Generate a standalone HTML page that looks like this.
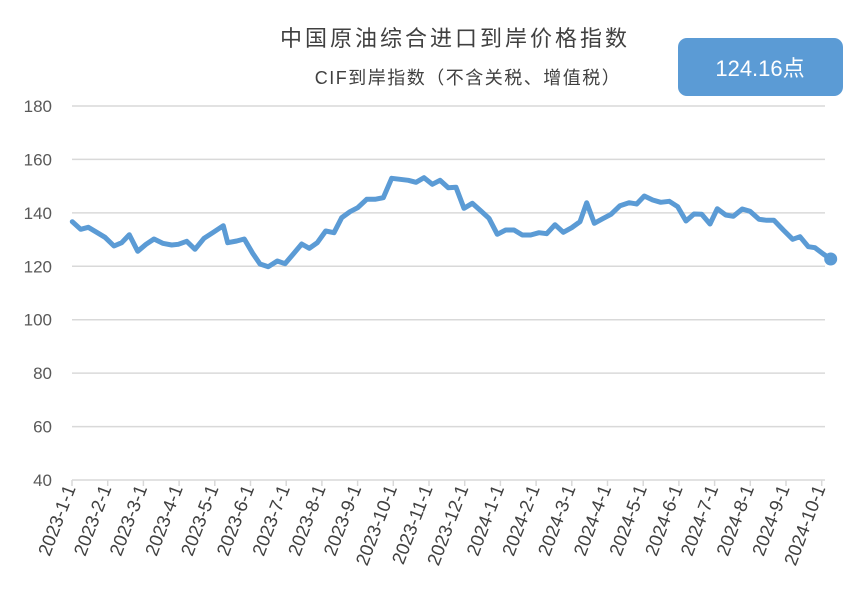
<!DOCTYPE html>
<html><head><meta charset="utf-8"><style>
body{margin:0;background:#fff;width:865px;height:598px;overflow:hidden;}
svg{display:block}
text{font-family:"Liberation Sans","Noto Sans CJK SC",sans-serif;}
</style></head><body>
<svg width="865" height="598" xmlns="http://www.w3.org/2000/svg">
<text x="455" y="46" text-anchor="middle" font-size="22" fill="#404040" font-family="'Noto Serif CJK SC','Noto Sans CJK SC',serif" letter-spacing="3">中国原油综合进口到岸价格指数</text>
<text x="468" y="84" text-anchor="middle" font-size="18" fill="#404040" font-family="'Liberation Mono','Noto Sans CJK SC',monospace" letter-spacing="1.5">CIF到岸指数（不含关税、增值税）</text>
<rect x="678" y="38" width="165" height="58" rx="9" fill="#5b9bd5"/>
<text x="760" y="76" text-anchor="middle" font-size="22" fill="#fff" font-family="'Liberation Serif','Noto Serif CJK SC',serif">124.16点</text>
<g id="grid"></g>
<polyline id="line" fill="none" stroke="#5b9bd5" stroke-width="5" stroke-linejoin="round" stroke-linecap="round"/>
<circle cx="830.7" cy="259" r="6.5" fill="#5b9bd5"/>
</svg>
<script>
var g=document.getElementById('grid'),NS='http://www.w3.org/2000/svg';
function el(t,a,txt){var e=document.createElementNS(NS,t);for(var k in a)e.setAttribute(k,a[k]);if(txt)e.textContent=txt;g.appendChild(e);}
for(var i=0;i<8;i++){var v=40+i*20,y=480-i*53.43;
el('line',{x1:72,x2:825,y1:y,y2:y,stroke:'#d9d9d9','stroke-width':1.5});
el('text',{x:0,y:0,'text-anchor':'end','font-size':17,fill:'#595959',transform:'translate(52,'+(y+6)+')'},String(v));}
var labs=[];for(var m=1;m<=12;m++)labs.push('2023-'+m+'-1');for(var m=1;m<=10;m++)labs.push('2024-'+m+'-1');
for(var i=0;i<labs.length;i++){var x=72+i*35.7;
el('line',{x1:x,x2:x,y1:480,y2:486,stroke:'#d9d9d9','stroke-width':1.5});
el('text',{x:0,y:0,'text-anchor':'end','font-size':18.5,fill:'#404040',transform:'translate('+(x+4)+',488) rotate(-69)'},labs[i]);}
var a=[[37,245],[62,268],[85,262],[110,277],[135,292],[162,318],[185,308],[208,284],[233,334],[258,313],[282,297],[308,310],[335,315],[355,313],[380,304],[405,328],[432,295],[460,277],[490,257],[503,308],[530,303],[553,297],[578,340],[600,372],[625,380],[652,363],[675,371],[700,342],[725,312],[748,325],[772,308],[797,273],[822,278],[845,233],[870,215],[893,203],[920,178],[945,178],[970,173],[995,115],[1020,118],[1045,121],[1068,127],[1092,113],[1117,133]];
var b=[[0,121],[25,143],[48,142],[72,205],[97,190],[122,212],[147,235],[172,283],[197,270],[222,270],[247,285],[272,285],[297,278],[320,281],[345,254],[370,277],[395,263],[420,245],[440,188],[463,250],[488,236],[513,223],[540,197],[567,188],[590,192],[613,168],[638,180],[662,187],[688,184],[713,200],[738,243],[762,222],[785,223],[810,252],[832,206],[857,225],[880,229],[907,207],[930,214],[957,238],[980,241],[1002,241],[1030,270],[1058,298],[1080,290],[1105,320],[1125,323],[1150,342],[1172,357]];
var p=[];a.forEach(function(q){p.push((60+q[0]/3).toFixed(1)+','+(140+q[1]/3).toFixed(1));});
b.forEach(function(q){p.push((440+q[0]/3).toFixed(1)+','+(140+q[1]/3).toFixed(1));});
document.getElementById('line').setAttribute('points',p.join(' '));
</script>
</body></html>
